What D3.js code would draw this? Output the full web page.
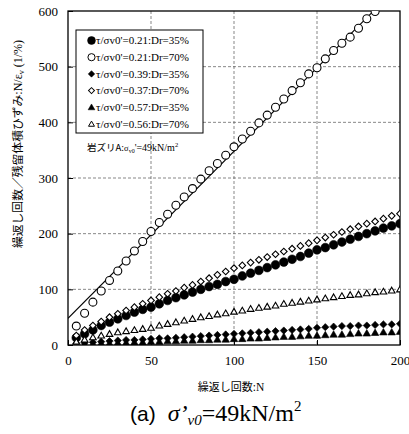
<!DOCTYPE html>
<html>
<head>
<meta charset="utf-8">
<script src="https://cdn.jsdelivr.net/npm/d3@7"></script>
<style>
  body { margin: 0; background: #fff; }
  svg { display: block; }
</style>
</head>
<body>
<svg id="chart" width="409" height="434"></svg>
<script>
// Number of cycles N at which each specimen was sampled
const cycles = [5, 10, 15, 20, 25, 30, 35, 40, 45, 50, 55, 60, 65, 70, 75, 80, 85, 90, 95, 100,
  105, 110, 115, 120, 125, 130, 135, 140, 145, 150, 155, 160, 165, 170, 175, 180, 185, 190, 195, 200];

// N / εv (1/%) for each test
const r021dr35 = [13, 20, 27, 35, 41, 47, 53, 59, 64, 68, 74, 80, 85, 90, 95, 100, 105, 109, 114, 118,
  124, 129, 134, 139, 144, 149, 154, 159, 165, 171, 175, 180, 185, 190, 195, 200, 205, 210, 214, 218];
const r021dr70 = [34, 57, 77, 97, 116, 133, 151, 169, 186, 204, 220, 235, 251, 266, 281, 298, 313, 326, 341, 356,
  370, 384, 399, 413, 427, 442, 457, 471, 487, 498, 514, 529, 542, 553, 569, 586, 599];
const r039dr35 = [3, 4, 5, 6, 7, 8, 9, 9, 10, 11, 12, 12, 13, 14, 15, 16, 17, 18, 19, 20,
  21, 22, 23, 24, 25, 26, 27, 28, 29, 31, 32, 33, 34, 34, 35, 35, 36, 37, 37, 38];
const r037dr70 = [17, 27, 35, 42, 50, 56, 62, 68, 74, 80, 86, 92, 97, 103, 108, 114, 120, 126, 132, 138,
  143, 148, 153, 158, 163, 168, 173, 178, 183, 188, 193, 198, 203, 208, 213, 218, 222, 227, 232, 236];
const r057dr35 = [1, 2, 2, 3, 3, 4, 4, 5, 5, 6, 6, 7, 7, 8, 8, 9, 9, 10, 10, 11,
  11, 12, 12, 13, 14, 15, 15, 16, 17, 17, 18, 19, 19, 20, 21, 21, 22, 23, 23, 24];
const r056dr70 = [6, 10, 14, 17, 20, 23, 25, 27, 29, 31, 35, 38, 41, 44, 47, 50, 52, 55, 57, 60,
  62, 65, 67, 69, 71, 74, 76, 78, 80, 82, 84, 86, 88, 90, 91, 93, 95, 96, 98, 100];

const legendLabels = [
  "τ/σv0'=0.21:Dr=35%", "τ/σv0'=0.21:Dr=70%", "τ/σv0'=0.39:Dr=35%",
  "τ/σv0'=0.37:Dr=70%", "τ/σv0'=0.57:Dr=35%", "τ/σv0'=0.56:Dr=70%"
];
const xTicks = [0, 50, 100, 150, 200];
const yTicks = [0, 100, 200, 300, 400, 500, 600];

// Linear fit drawn through the τ/σv0'=0.21, Dr=70% results
const fitIntercept = 48;
const fitSlope = 3.0;

const series = [
  { values: r021dr35, shape: "circle", filled: true },
  { values: r021dr70, shape: "circle", filled: false },
  { values: r039dr35, shape: "diamond", filled: true },
  { values: r037dr70, shape: "diamond", filled: false },
  { values: r057dr35, shape: "triangle", filled: true },
  { values: r056dr70, shape: "triangle", filled: false }
];

const svg = d3.select("#chart");
const plot = { left: 68, right: 400, top: 11, bottom: 345 };

const x = d3.scaleLinear().domain([0, 200]).range([plot.left, plot.right]);
const y = d3.scaleLinear().domain([0, 600]).range([plot.bottom, plot.top]);

const serif = "'Liberation Serif', 'Times New Roman', serif";
const cjk = "'Noto Sans CJK JP', sans-serif";

svg.append("defs").append("clipPath").attr("id", "plotClip")
  .append("rect")
  .attr("x", plot.left).attr("y", plot.top)
  .attr("width", plot.right - plot.left).attr("height", plot.bottom - plot.top);

// Dashed grid
const grid = svg.append("g").attr("stroke", "#555").attr("stroke-width", 0.7)
  .attr("stroke-dasharray", "3,2");
grid.selectAll("line.gx").data(xTicks.slice(1, -1)).join("line").attr("class", "gx")
  .attr("x1", d => x(d)).attr("x2", d => x(d))
  .attr("y1", plot.top).attr("y2", plot.bottom);
grid.selectAll("line.gy").data(yTicks.slice(1, -1)).join("line").attr("class", "gy")
  .attr("y1", d => y(d)).attr("y2", d => y(d))
  .attr("x1", plot.left).attr("x2", plot.right);

// Axes with inward ticks
const xAxis = svg.append("g").attr("transform", `translate(0,${plot.bottom})`)
  .call(d3.axisBottom(x).tickValues(xTicks).tickSize(-5).tickPadding(11));
const yAxis = svg.append("g").attr("transform", `translate(${plot.left},0)`)
  .call(d3.axisLeft(y).tickValues(yTicks).tickSize(-5).tickPadding(10));
[xAxis, yAxis].forEach(a => {
  a.select(".domain").remove();
  a.selectAll(".tick line").attr("stroke", "#000").attr("stroke-width", 1);
  a.selectAll(".tick text").attr("font-family", serif).attr("font-size", 13).attr("fill", "#000");
});

// Frame around the plot
svg.append("rect")
  .attr("x", plot.left).attr("y", plot.top)
  .attr("width", plot.right - plot.left).attr("height", plot.bottom - plot.top)
  .attr("fill", "none").attr("stroke", "#000").attr("stroke-width", 1.3);

// Fit line
const fitN = [0, 200];
svg.append("path")
  .attr("clip-path", "url(#plotClip)")
  .datum(fitN)
  .attr("d", d3.line().x(n => x(n)).y(n => y(fitIntercept + fitSlope * n)))
  .attr("fill", "none").attr("stroke", "#000").attr("stroke-width", 1.1);

// Marker shapes
function symbolPath(shape, filled) {
  if (shape === "circle") return d3.symbol(d3.symbolCircle, filled ? 60 : 50)();
  if (shape === "diamond") return d3.symbol(d3.symbolSquare, filled ? 26 : 22)();
  return d3.symbol(d3.symbolTriangle, filled ? 24 : 19)();
}
function drawMarker(g, s) {
  g.append("path")
    .attr("d", symbolPath(s.shape, s.filled))
    .attr("transform", s.shape === "diamond" ? "rotate(45)" : (s.shape === "triangle" ? "translate(0,0.6)" : null))
    .attr("fill", s.filled ? "#000" : "#fff")
    .attr("stroke", "#000")
    .attr("stroke-width", s.filled ? 0.6 : 1.1);
}

const markerLayer = svg.append("g").attr("clip-path", "url(#plotClip)");
series.forEach(s => {
  const pts = s.values.map((v, i) => ({ n: cycles[i], v }));
  markerLayer.append("g").selectAll("g").data(pts).join("g")
    .attr("transform", d => `translate(${x(d.n)},${y(d.v)})`)
    .each(function () { drawMarker(d3.select(this), s); });
});

// Legend
const legend = svg.append("g");
legend.append("rect")
  .attr("x", 76).attr("y", 30).attr("width", 127).attr("height", 103)
  .attr("fill", "#fff").attr("stroke", "#000").attr("stroke-width", 1);
series.forEach((s, i) => {
  const cy = 40.5 + i * 16.7;
  const g = legend.append("g").attr("transform", `translate(91.5,${cy}) scale(0.9)`);
  drawMarker(g, s);
  legend.append("text")
    .attr("x", 96).attr("y", cy + 3.8)
    .attr("font-family", serif).attr("font-size", 10.6)
    .attr("textLength", 93).attr("lengthAdjust", "spacingAndGlyphs")
    .text(legendLabels[i]);
});

// Material note
const note = svg.append("text").attr("x", 87).attr("y", 151)
  .attr("font-family", serif).attr("font-size", 10);
note.append("tspan").attr("font-family", cjk).attr("font-size", 9.5).text("岩ズリA");
note.append("tspan").text(":");
note.append("tspan").attr("font-size", 8.5).text("σ");
note.append("tspan").attr("font-size", 6).attr("dy", 2).text("v0");
note.append("tspan").attr("dy", -2).text("'=49kN/m");
note.append("tspan").attr("font-size", 6.5).attr("dy", -4).text("2");

// Y axis title
const yTitle = svg.append("text")
  .attr("transform", "translate(22,144) rotate(-90)")
  .attr("text-anchor", "middle")
  .attr("font-family", serif).attr("font-size", 12);
yTitle.append("tspan").attr("font-family", cjk).attr("font-size", 11.8).text("繰返し回数／残留体積ひずみ");
yTitle.append("tspan").text(":N/ε");
yTitle.append("tspan").attr("font-size", 8).attr("dy", 2).text("v");
yTitle.append("tspan").attr("dy", -2).text(" (1/%)");

// X axis title
const xTitle = svg.append("text")
  .attr("x", (plot.left + plot.right) / 2 - 3).attr("y", 391)
  .attr("text-anchor", "middle")
  .attr("font-family", serif).attr("font-size", 11.5);
xTitle.append("tspan").attr("font-family", cjk).attr("font-size", 11).text("繰返し回数");
xTitle.append("tspan").text(":N");

// Panel caption
const caption = svg.append("text")
  .attr("x", 130).attr("y", 421)
  .attr("font-family", serif).attr("font-size", 24);
caption.append("tspan").attr("font-family", "'Liberation Sans', Arial, sans-serif").attr("font-size", 21).text("(a)");
caption.append("tspan").attr("dx", 12).attr("font-style", "italic").text("σ’");
caption.append("tspan").attr("font-style", "italic").attr("font-size", 15).attr("dy", 4).text("v0");
caption.append("tspan").attr("dy", -4).text("=49kN/m");
caption.append("tspan").attr("font-size", 15).attr("dy", -10).text("2");
</script>
</body>
</html>
